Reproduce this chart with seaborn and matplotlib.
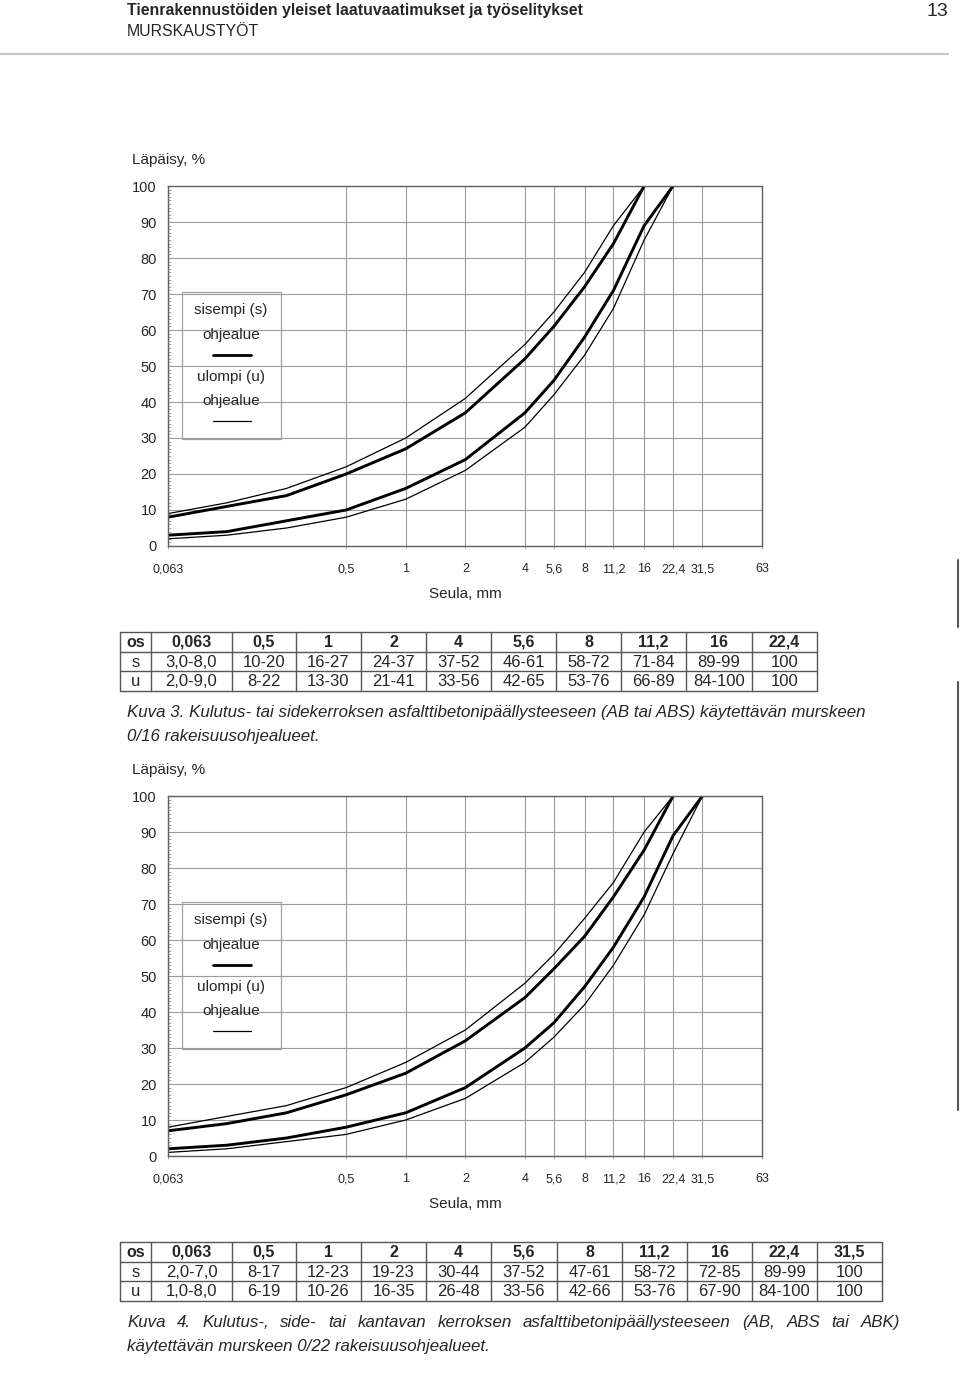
import matplotlib
matplotlib.use("Agg")
import matplotlib.pyplot as plt
from matplotlib.patches import Rectangle
from matplotlib.ticker import FixedLocator, NullLocator, MultipleLocator
import numpy as np
import pandas as pd
import seaborn as sns

# ---------------- data ----------------
sieves = [0.063, 0.125, 0.25, 0.5, 1, 2, 4, 5.6, 8, 11.2, 16, 22.4, 31.5]
xtick_vals = [0.063, 0.5, 1, 2, 4, 5.6, 8, 11.2, 16, 22.4, 31.5, 63]
xtick_labels = ["0,063", "0,5", "1", "2", "4", "5,6", "8", "11,2", "16", "22,4", "31,5", "63"]
ytick_vals = [0, 10, 20, 30, 40, 50, 60, 70, 80, 90, 100]

# Chart 1 (0/16)
c1_s_upper = [8, 11, 14, 20, 27, 37, 52, 61, 72, 84, 100]
c1_s_lower = [3, 4, 7, 10, 16, 24, 37, 46, 58, 71, 89, 100]
c1_u_upper = [9, 12, 16, 22, 30, 41, 56, 65, 76, 89, 100]
c1_u_lower = [2, 3, 5, 8, 13, 21, 33, 42, 53, 66, 85, 100]

# Chart 2 (0/22)
c2_s_upper = [7, 9, 12, 17, 23, 32, 44, 52, 61, 72, 85, 100]
c2_s_lower = [2, 3, 5, 8, 12, 19, 30, 37, 47, 58, 72, 89, 100]
c2_u_upper = [8, 11, 14, 19, 26, 35, 48, 56, 66, 76, 90, 100]
c2_u_lower = [1, 2, 4, 6, 10, 16, 26, 33, 42, 53, 67, 84, 100]

# Tables
t1_header = ["os", "0,063", "0,5", "1", "2", "4", "5,6", "8", "11,2", "16", "22,4"]
t1_s = ["s", "3,0-8,0", "10-20", "16-27", "24-37", "37-52", "46-61", "58-72", "71-84", "89-99", "100"]
t1_u = ["u", "2,0-9,0", "8-22", "13-30", "21-41", "33-56", "42-65", "53-76", "66-89", "84-100", "100"]

t2_header = ["os", "0,063", "0,5", "1", "2", "4", "5,6", "8", "11,2", "16", "22,4", "31,5"]
t2_s = ["s", "2,0-7,0", "8-17", "12-23", "19-23", "30-44", "37-52", "47-61", "58-72", "72-85", "89-99", "100"]
t2_u = ["u", "1,0-8,0", "6-19", "10-26", "16-35", "26-48", "33-56", "42-66", "53-76", "67-90", "84-100", "100"]

header_title = "Tienrakennustöiden yleiset laatuvaatimukset ja työselitykset"
header_sub = "MURSKAUSTYÖT"
page_no = "13"
ylabel = "Läpäisy, %"
xlabel = "Seula, mm"
leg_s = ["sisempi (s)", "ohjealue"]
leg_u = ["ulompi (u)", "ohjealue"]
caption1 = ["Kuva 3. Kulutus- tai sidekerroksen asfalttibetonipäällysteeseen (AB tai ABS) käytettävän murskeen",
            "0/16 rakeisuusohjealueet."]
caption2 = ["Kuva 4. Kulutus-, side- tai kantavan kerroksen asfalttibetonipäällysteeseen (AB, ABS tai ABK)",
            "käytettävän murskeen 0/22 rakeisuusohjealueet."]

# ---------------- style ----------------
sns.set_theme(style="white")
plt.rcParams["font.family"] = ["Liberation Sans", "DejaVu Sans"]

W, H = 960, 1374
fig = plt.figure(figsize=(W / 100, H / 100), dpi=100)
fig.patch.set_facecolor("white")

GRID = "#9c9c9c"
SPINE = "#606060"


def px_axes(left, top, right, bottom):
    return [left / W, 1 - bottom / H, (right - left) / W, (bottom - top) / H]


def make_chart(rect, s_up, s_lo, u_up, u_lo):
    ax = fig.add_axes(rect)
    for vals, lw in [(u_up, 0.9), (u_lo, 0.9), (s_up, 2.1), (s_lo, 2.1)]:
        df = pd.DataFrame({"x": sieves[:len(vals)], "y": vals})
        sns.lineplot(data=df, x="x", y="y", ax=ax, color="black", linewidth=lw,
                     estimator=None, sort=False, legend=False)
    ax.set_xscale("log")
    ax.set_xlim(0.063, 63)
    ax.set_ylim(0, 100)
    ax.xaxis.set_major_locator(FixedLocator(xtick_vals))
    ax.xaxis.set_minor_locator(NullLocator())
    ax.set_xticks(xtick_vals)
    ax.set_xticklabels(xtick_labels, fontsize=9)
    ax.set_yticks(ytick_vals)
    ax.set_yticklabels([str(v) for v in ytick_vals], fontsize=10.5)
    ax.yaxis.set_minor_locator(MultipleLocator(1))
    ax.tick_params(axis="x", which="major", direction="out", length=2.5, width=0.6,
                   color=GRID, pad=10, bottom=True)
    ax.tick_params(axis="y", which="major", length=0, pad=8, left=True)
    ax.tick_params(axis="y", which="minor", direction="in", length=2.5, width=0.5,
                   color="#888888", left=True)
    ax.grid(True, which="major", color=GRID, linewidth=0.8)
    ax.set_axisbelow(True)
    for sp in ax.spines.values():
        sp.set_visible(True)
        sp.set_color(SPINE)
        sp.set_linewidth(1.0)
    ax.set_xlabel("")
    ax.set_ylabel("")
    return ax


ax1 = make_chart(px_axes(168, 186, 762, 546), c1_s_upper, c1_s_lower, c1_u_upper, c1_u_lower)
ax2 = make_chart(px_axes(168, 796, 762, 1156), c2_s_upper, c2_s_lower, c2_u_upper, c2_u_lower)

# ---------------- overlay for page elements ----------------
ov = fig.add_axes([0, 0, 1, 1], zorder=10)
ov.set_xlim(0, W)
ov.set_ylim(H, 0)
ov.axis("off")
ov.patch.set_alpha(0)

# header
ov.text(127, 10, header_title, fontsize=11.4, fontweight="bold", va="center", ha="left")
ov.text(127, 32, header_sub, fontsize=11.4, va="center", ha="left")
ov.text(948, 12, page_no, fontsize=14, va="center", ha="right")
ov.plot([0, 948], [54, 54], color="#c4c4c4", lw=1.5)

# right margin bars
ov.plot([958, 958], [560, 627], color="#555555", lw=1.5)
ov.plot([958, 958], [682, 1110], color="#555555", lw=1.5)

TAB_EDGE = "#555555"


def draw_chart_extras(off):
    ov.text(132, 160 + off, ylabel, fontsize=11, va="center", ha="left")
    ov.text(465, 594 + off, xlabel, fontsize=11, va="center", ha="center")
    ov.add_patch(Rectangle((182, 292 + off), 99, 147, fill=False, edgecolor="#a0a0a0", lw=0.9))
    ov.text(231, 310 + off, leg_s[0], fontsize=11, ha="center", va="center")
    ov.text(231, 335 + off, leg_s[1], fontsize=11, ha="center", va="center")
    ov.plot([213, 251], [355 + off, 355 + off], color="black", lw=2.0)
    ov.text(231, 377 + off, leg_u[0], fontsize=11, ha="center", va="center")
    ov.text(231, 401 + off, leg_u[1], fontsize=11, ha="center", va="center")
    ov.plot([213, 251], [421 + off, 421 + off], color="black", lw=0.9)


def draw_table(top, cols, rows):
    rh = 19.7
    bottom = top + rh * len(rows)
    for i in range(len(rows) + 1):
        y = top + rh * i
        ov.plot([cols[0], cols[-1]], [y, y], color=TAB_EDGE, lw=1.0)
    for x in cols:
        ov.plot([x, x], [top, bottom], color=TAB_EDGE, lw=1.0)
    for r, row in enumerate(rows):
        y = top + rh * (r + 0.5)
        for c, val in enumerate(row):
            xc = (cols[c] + cols[c + 1]) / 2
            ov.text(xc, y + 0.5, val, fontsize=11.5 if r == 0 else 12, ha="center", va="center",
                    fontweight="bold" if r == 0 else "normal")


draw_chart_extras(0)
draw_chart_extras(610)

t1_cols = [120, 151, 232, 296, 361, 426, 491, 556, 621, 686, 752, 817]
t2_cols = [120, 151, 232, 296, 361, 426, 491, 557, 622, 687, 752, 817, 882]
draw_table(632, t1_cols, [t1_header, t1_s, t1_u])
draw_table(1242, t2_cols, [t2_header, t2_s, t2_u])

CAP_FS = 12.2
# caption 1 (left aligned)
ov.text(127, 717, caption1[0], fontsize=CAP_FS, style="italic", ha="left", va="baseline")
ov.text(127, 741, caption1[1], fontsize=CAP_FS, style="italic", ha="left", va="baseline")

# caption 2, first line justified between 127 and 900
fig.canvas.draw()
renderer = fig.canvas.get_renderer()
words = caption2[0].split(" ")
txts = [ov.text(0, 1327, w, fontsize=CAP_FS, style="italic", ha="left", va="baseline") for w in words]
widths = [t.get_window_extent(renderer=renderer).width for t in txts]
left, right = 127, 900
gap = (right - left - sum(widths)) / (len(words) - 1)
x = left
for t, w in zip(txts, widths):
    t.set_x(x)
    x += w + gap
ov.text(127, 1351, caption2[1], fontsize=CAP_FS, style="italic", ha="left", va="baseline")

fig.savefig("out.png", dpi=100, facecolor="white")
